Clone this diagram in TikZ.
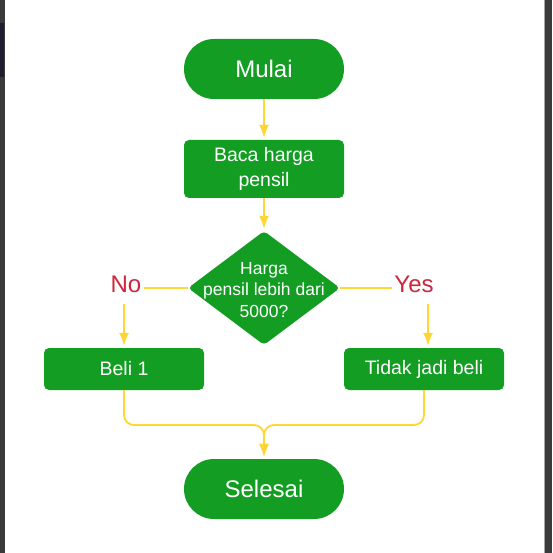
\documentclass[tikz,border=0pt]{standalone}
\usepackage{fontspec}
\setmainfont{Liberation Sans}
\usetikzlibrary{arrows.meta,shapes.geometric}
\definecolor{boxgreen}{RGB}{19,158,35}
\definecolor{flowyellow}{RGB}{255,214,51}
\definecolor{labelred}{RGB}{206,38,60}
\definecolor{stripgrey}{RGB}{58,58,58}
\definecolor{stripnavy}{RGB}{30,30,48}
\tikzset{
	terminal/.style={fill=boxgreen, text=white, rounded corners=30pt, minimum width=160pt, minimum height=60pt, font=\fontsize{24}{29}\selectfont},
	process/.style={fill=boxgreen, text=white, rounded corners=5pt, minimum width=160pt, align=center, font=\fontsize{19.5}{25}\selectfont},
	decision/.style={diamond, fill=boxgreen, rounded corners=4pt, minimum width=152pt, minimum height=114pt, inner sep=0pt},
	flow/.style={draw=flowyellow, line width=1.8pt, -{Latex[length=13pt,width=10pt]}, shorten >=2pt},
	link/.style={draw=flowyellow, line width=1.8pt},
	answer/.style={text=labelred, inner sep=2pt, font=\fontsize{24}{29}\selectfont}
}

\begin{document}
\begin{tikzpicture}[x=1pt,y=-1pt]
		%%%%% FRAME %%%%%
		\useasboundingbox (0,0) rectangle (552,553);
		\fill[white] (0,0) rectangle (552,553);
		\fill[stripgrey] (0,0) rectangle (5,553);
		\fill[stripnavy] (0,23) rectangle (4,77);
		\fill[stripgrey] (544,0) rectangle (552,553);
		\draw[gray!70, line width=0.8pt] (544.4,0) -- (544.4,553);
		
		%%%%% NODES %%%%%
		\node[terminal] (start) at (264,69) {Mulai};
		\node[process, minimum height=58pt] (read) at (264,169) {Baca harga\\pensil};
		\node[decision] (dec) at (264,288) {};
		\node[text=white, align=center, font=\fontsize{17.5}{21.7}\selectfont] (dectext) at (264,290) {Harga\\pensil lebih dari\\5000?};
		
		\node[answer] (no) at (126,284) {No};
		\node[answer] (yes) at (414,284) {Yes};
		
		\node[process, minimum height=42pt] (buy) at (124,369) {Beli 1};
		\node[process, minimum height=42pt] (nobuy) at (424,369) {Tidak jadi beli};
		
		\node[terminal] (end) at (264,489) {Selesai};
		\coordinate (join) at (264,425);
		
		%%%%% CONNECTORS %%%%%
		\draw[flow] (start) -- (read);
		\draw[flow] (read) -- (dec);
		
		\draw[link] (dec.west) -- (dec.west -| no.east);
		\draw[link] (dec.east) -- (dec.east -| yes.west);
		\draw[flow, shorten <=9pt] (buy.north |- no.south) -- (buy.north);
		\draw[flow, shorten <=9pt] ([xshift=4pt]nobuy.north |- yes.south) -- ([xshift=4pt]nobuy.north);
		
		\draw[flow, rounded corners=10pt] (buy.south) |- (join) -- (end.north);
		\draw[flow, rounded corners=10pt] (nobuy.south) |- (join) -- (end.north);
		
		%%%%% END %%%%%
\end{tikzpicture}
\end{document}
